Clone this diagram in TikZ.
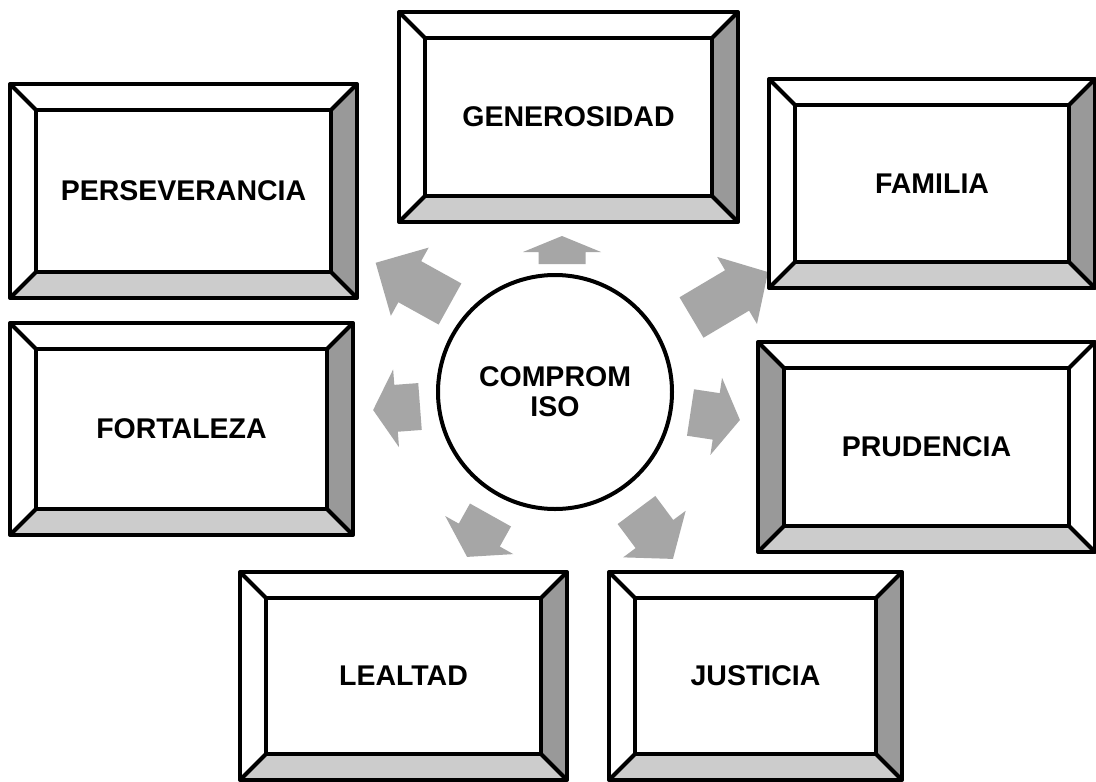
\documentclass[tikz,border=0pt]{standalone}
\usepackage{fontspec}
\setmainfont{Liberation Sans}
\usetikzlibrary{calc,backgrounds}
\definecolor{arrowgray}{HTML}{A6A6A6}
\definecolor{bevdark}{HTML}{999999}
\definecolor{bevlight}{HTML}{CCCCCC}
\tikzset{
  boxnode/.style={inner sep=0pt, outer sep=0pt, font=\bfseries\fontsize{28.5}{30}\selectfont, align=center},
  frameline/.style={draw=black, line width=4pt, line join=round},
  blockarrow/.style={fill=arrowgray, draw=none},
}
% name, cx, cy, w, h, text, left colour, right colour
\newcommand{\bevelbox}[8]{%
  \node[boxnode, minimum width=#4pt, minimum height=#5pt] (#1) at (#2,#3) {#6};
  \begin{pgfonlayer}{background}
    \coordinate (#1-nw) at ($(#1.north west)+(26,26)$);
    \coordinate (#1-ne) at ($(#1.north east)+(-26,26)$);
    \coordinate (#1-se) at ($(#1.south east)+(-26,-26)$);
    \coordinate (#1-sw) at ($(#1.south west)+(26,-26)$);
    \fill[white] (#1.north west) -- (#1.north east) -- (#1-ne) -- (#1-nw) -- cycle;
    \fill[#7] (#1.north west) -- (#1-nw) -- (#1-sw) -- (#1.south west) -- cycle;
    \fill[#8] (#1.north east) -- (#1.south east) -- (#1-se) -- (#1-ne) -- cycle;
    \fill[bevlight] (#1.south west) -- (#1-sw) -- (#1-se) -- (#1.south east) -- cycle;
    \draw[frameline] (#1.north west) rectangle (#1.south east);
    \draw[frameline] (#1-nw) rectangle (#1-se);
    \draw[frameline] (#1.north west) -- (#1-nw);
    \draw[frameline] (#1.north east) -- (#1-ne);
    \draw[frameline] (#1.south east) -- (#1-se);
    \draw[frameline] (#1.south west) -- (#1-sw);
  \end{pgfonlayer}
}
% dx, dy (from centre node c), angle, length, head length
\newcommand{\blockarr}[5]{%
  \fill[blockarrow, shift={($(c)+(#1,#2)$)}, rotate=#3]
    (0,-23.5) -- (#4-#5,-23.5) -- (#4-#5,-39) -- (#4,0) -- (#4-#5,39) -- (#4-#5,23.5) -- (0,23.5) -- cycle;
}
\begin{document}
\begin{tikzpicture}[x=1pt,y=-1pt]
\useasboundingbox (0,0) rectangle (1096,782);

\node[boxnode, circle, draw=black, line width=4pt, fill=white, minimum size=234pt] (c) at (555,392) {COMPROM\\ISO};

\begin{pgfonlayer}{background}
\fill[white] (0,0) rectangle (1096,782);
\blockarr{-105}{-88}{151}{85}{39}
\blockarr{7}{-128}{90}{28}{16}
\blockarr{136.5}{-74.5}{30.7}{89}{36}
\blockarr{-135}{14.5}{184.3}{47}{23}
\blockarr{135.5}{20.5}{-8.6}{50}{24}
\blockarr{-64.5}{123}{240.8}{48}{25}
\blockarr{81.5}{118}{-53.3}{61}{31}
\end{pgfonlayer}

\bevelbox{per}{183.5}{191}{347}{214}{PERSEVERANCIA}{white}{bevdark}
\bevelbox{gen}{568.5}{117}{339}{210}{GENEROSIDAD}{white}{bevdark}
\bevelbox{fam}{932}{183.5}{326}{209}{FAMILIA}{white}{bevdark}
\bevelbox{fort}{181.5}{429}{343}{212}{FORTALEZA}{white}{bevdark}
\bevelbox{pru}{926.5}{447}{337}{210}{PRUDENCIA}{bevdark}{white}
\bevelbox{leal}{403.5}{676}{327}{208}{LEALTAD}{white}{bevdark}
\bevelbox{jus}{755.5}{676}{293}{208}{JUSTICIA}{white}{bevdark}
\end{tikzpicture}
\end{document}
